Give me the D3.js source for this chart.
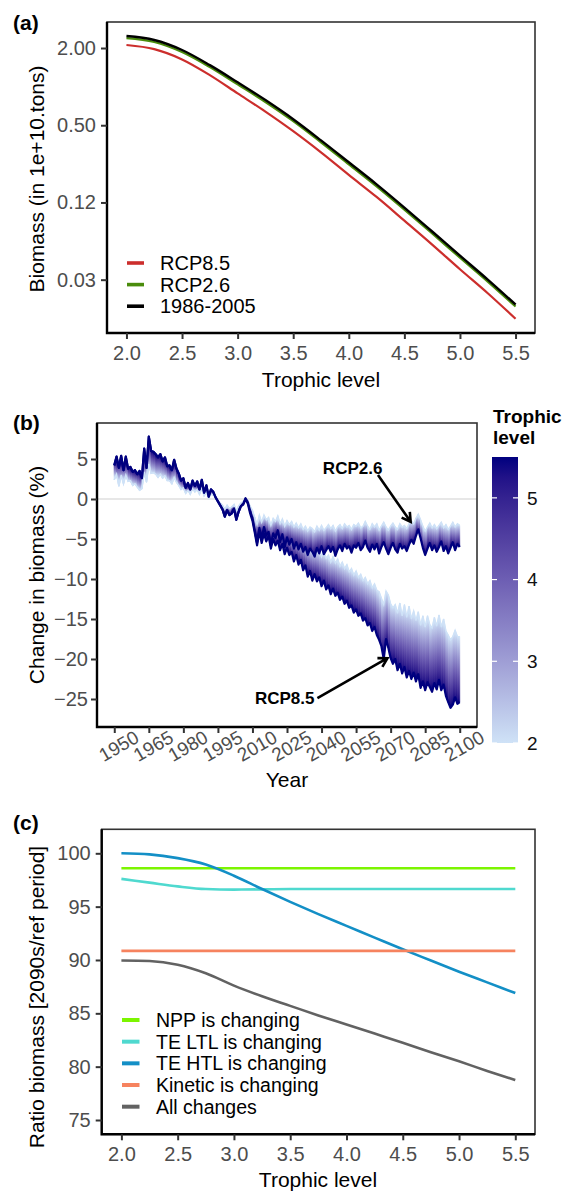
<!DOCTYPE html>
<html>
<head>
<meta charset="utf-8">
<script src="https://cdn.jsdelivr.net/npm/d3@7"></script>
<style>
  body { margin: 0; background: #fff; }
  svg { display: block; }
</style>
</head>
<body>
<svg id="fig" width="567" height="1193"></svg>
<script>
// ---------- Panel (a): biomass spectrum by trophic level ----------
const aTL = [2.0, 2.25, 2.5, 2.75, 3.0, 3.25, 3.5, 3.75, 4.0, 4.25, 4.5, 4.75, 5.0, 5.25, 5.5];
const aRef   = [2.48, 2.31, 1.93, 1.47, 1.08, 0.785, 0.557, 0.381, 0.257, 0.173, 0.114, 0.0742, 0.0481, 0.0313, 0.0200];
const aRcp26 = [2.39, 2.23, 1.86, 1.42, 1.04, 0.758, 0.538, 0.368, 0.248, 0.167, 0.110, 0.0716, 0.0464, 0.0302, 0.0193];
const aRcp85 = [2.11, 1.96, 1.63, 1.23, 0.886, 0.638, 0.449, 0.307, 0.205, 0.138, 0.0902, 0.0587, 0.0377, 0.0245, 0.0155];
const aXTicks = [2.0, 2.5, 3.0, 3.5, 4.0, 4.5, 5.0, 5.5];
const aYTicks = [0.03125, 0.125, 0.5, 2];
const aYTickLabels = ["0.03", "0.12", "0.50", "2.00"];
const aSeriesNames = ["RCP8.5", "RCP2.6", "1986-2005"];
const aSeriesColors = ["#cc2e2c", "#4a8c0c", "#000000"];

// ---------- Panel (b): yearly change in biomass, TL 2 (light) and TL 5.5 (dark) edges ----------
const bHistStart = 1950;
const bHistTL55 = [4.2, 5.3, 3.9, 5.4, 3.6, 5.3, 3.8, 4.0, 3.4, 3.6,
                   3.1, 3.5, 2.6, 6.3, 3.9, 7.8, 6.0, 5.9, 5.6, 5.2,
                   5.6, 4.7, 5.2, 4.1, 4.2, 3.6, 4.9, 3.8, 3.2, 2.3,
                   2.6, 1.4, 2.0, 1.2, 2.3, 1.6, 2.2, 1.2, 2.4, 0.8,
                   1.7, 0.3, 1.2, 0.9, 0.2, -0.3, -0.8, -1.3, -2.2, -1.4,
                   -2.0, -1.8, -1.2, -2.6, -1.6, -0.9];
const bHistTL2  = [2.4, 3.1, 1.6, 3.0, 1.9, 3.0, 2.2, 2.3, 1.7, 1.9,
                   1.5, 1.1, 1.3, 3.4, 2.1, 4.4, 3.2, 3.3, 3.1, 2.7,
                   3.1, 2.6, 2.9, 2.3, 2.3, 1.9, 2.7, 2.1, 1.7, 1.2,
                   1.4, 0.7, 1.1, 0.6, 1.3, 0.9, 1.2, 0.6, 1.3, 0.4,
                   0.9, 0.1, 0.6, 0.5, 0.1, -0.2, -0.5, -0.8, -1.3, -0.8,
                   -1.2, -1.0, -0.7, -1.5, -0.9, -0.5];
const bFutStart = 2006;
const bRcp26TL55 = [-0.6, 0.1, -0.4, -1.5, -2.4, -3.9, -5.5, -3.6, -5.0, -3.5,
                    -4.6, -4.1, -5.8, -4.3, -4.9, -3.9, -5.4, -4.4, -6.0, -4.8,
                    -5.7, -5.0, -6.2, -5.4, -6.3, -5.6, -6.6, -6.0, -7.0, -6.2,
                    -6.6, -7.2, -6.1, -6.8, -5.9, -6.9, -6.4, -5.9, -6.6, -6.0,
                    -7.1, -6.3, -5.8, -6.5, -5.6, -6.2, -5.9, -6.7, -5.8, -6.1,
                    -5.5, -6.4, -6.0, -5.2, -6.1, -6.6, -5.7, -6.3, -5.6, -6.8,
                    -6.0, -5.4, -6.2, -6.9, -6.1, -5.5, -6.3, -6.7, -5.6, -6.2,
                    -5.9, -6.5, -5.7, -5.1, -5.6, -4.6, -3.8, -4.9, -6.1, -7.0,
                    -6.2, -5.5, -6.4, -5.8, -6.6, -6.0, -5.3, -6.5, -5.9, -6.8,
                    -6.1, -5.4, -6.4, -5.6, -6.0];
const bRcp26TL2  = [-0.3, 0.1, -0.2, -0.9, -1.4, -2.3, -3.2, -2.0, -2.9, -2.0,
                    -2.6, -2.3, -3.3, -2.4, -2.8, -2.1, -3.1, -2.5, -3.4, -2.7,
                    -3.2, -2.8, -3.5, -3.0, -3.6, -3.1, -3.8, -3.4, -4.0, -3.5,
                    -3.7, -4.1, -3.4, -3.9, -3.3, -3.9, -3.6, -3.2, -3.7, -3.3,
                    -4.0, -3.5, -3.2, -3.7, -3.1, -3.5, -3.3, -3.8, -3.2, -3.4,
                    -3.0, -3.6, -3.4, -2.8, -3.4, -3.8, -3.1, -3.5, -3.1, -3.9,
                    -3.4, -2.9, -3.5, -3.9, -3.4, -3.0, -3.5, -3.8, -3.1, -3.5,
                    -3.3, -3.7, -3.1, -2.7, -3.1, -2.4, -1.9, -2.6, -3.4, -4.0,
                    -3.5, -3.0, -3.6, -3.2, -3.7, -3.3, -2.9, -3.6, -3.2, -3.8,
                    -3.4, -2.9, -3.5, -3.1, -3.3];
const bRcp85TL55 = [-0.7, 0.0, -0.6, -1.8, -2.7, -4.2, -5.8, -4.0, -5.5, -4.3,
                    -5.3, -4.6, -6.2, -5.0, -5.8, -5.2, -6.4, -5.6, -6.9, -6.1,
                    -7.0, -6.6, -7.8, -7.0, -8.2, -7.6, -8.9, -8.3, -9.7, -9.0,
                    -10.2, -9.4, -10.3, -9.8, -10.9, -10.2, -11.3, -10.8, -11.9, -11.2,
                    -12.1, -11.7, -12.6, -12.2, -13.1, -12.7, -13.6, -13.3, -14.2, -13.8,
                    -14.6, -14.3, -15.2, -14.9, -15.8, -15.5, -16.5, -16.0, -17.0, -17.6,
                    -18.4, -20.0, -17.5, -18.6, -19.9, -20.6, -20.0, -21.4, -20.6, -21.8,
                    -21.0, -22.3, -21.5, -22.5, -21.7, -22.8, -21.9, -23.6, -22.8, -23.9,
                    -22.9, -23.5, -24.1, -23.0, -23.8, -22.6, -23.9, -23.2, -24.6, -25.4,
                    -26.1, -25.7, -24.8, -25.6, -25.4];
const bRcp85TL2  = [-0.4, 0.0, -0.3, -1.1, -1.6, -2.5, -3.4, -2.4, -3.3, -2.6,
                    -3.2, -2.8, -3.8, -3.0, -3.5, -3.2, -3.9, -3.4, -4.3, -3.8,
                    -4.4, -4.1, -5.0, -4.4, -5.3, -4.9, -5.8, -5.3, -6.3, -5.8,
                    -6.7, -6.0, -6.8, -6.3, -7.2, -6.5, -7.4, -7.0, -7.9, -7.2,
                    -8.0, -7.5, -8.4, -7.9, -8.7, -8.2, -9.1, -8.7, -9.5, -9.0,
                    -9.8, -9.4, -10.2, -9.8, -10.6, -10.2, -11.1, -10.6, -11.4, -11.6,
                    -12.4, -13.2, -11.5, -12.0, -13.1, -13.6, -13.2, -14.3, -13.0, -14.6,
                    -13.2, -14.8, -13.4, -15.0, -14.0, -15.2, -14.1, -15.8, -14.6, -16.0,
                    -14.6, -15.7, -16.1, -14.8, -15.9, -14.5, -16.0, -15.0, -16.5, -17.0,
                    -17.6, -17.2, -16.4, -17.2, -17.2];
const bYearTicks = [1950, 1965, 1980, 1995, 2010, 2025, 2040, 2055, 2070, 2085, 2100];
const bYTicks = [-25, -20, -15, -10, -5, 0, 5];
const bColorTicks = [2, 3, 4, 5];
const bTLRange = [2, 5.5];
// scenario callouts: label position and arrow start/end, in (year, % change)
const bNotes = [
  { label: "RCP2.6", at: [2053.5, 3.9], from: [2064.5, 3.0], to: [2078.7, -2.85] },
  { label: "RCP8.5", at: [2024.0, -24.9], from: [2038.2, -24.9], to: [2068.6, -19.9] }
];

// ---------- Panel (c): 2090s / reference ratio by driver ----------
const cTL = [2.0, 2.25, 2.5, 2.75, 3.0, 3.25, 3.5, 3.75, 4.0, 4.25, 4.5, 4.75, 5.0, 5.25, 5.5];
const cNPP     = [98.6, 98.6, 98.6, 98.6, 98.6, 98.6, 98.6, 98.6, 98.6, 98.6, 98.6, 98.6, 98.6, 98.6, 98.6];
const cTELTL   = [97.6, 97.25, 96.9, 96.65, 96.6, 96.62, 96.65, 96.65, 96.65, 96.65, 96.65, 96.65, 96.65, 96.65, 96.65];
const cTEHTL   = [100.0, 99.9, 99.55, 98.95, 97.9, 96.65, 95.45, 94.3, 93.2, 92.1, 91.0, 89.95, 88.9, 87.9, 86.9];
const cKinetic = [90.85, 90.85, 90.85, 90.85, 90.85, 90.85, 90.85, 90.85, 90.85, 90.85, 90.85, 90.85, 90.85, 90.85, 90.85];
const cAll     = [89.95, 89.9, 89.55, 88.75, 87.6, 86.6, 85.7, 84.8, 83.95, 83.1, 82.25, 81.35, 80.5, 79.6, 78.75];
const cXTicks = [2.0, 2.5, 3.0, 3.5, 4.0, 4.5, 5.0, 5.5];
const cYTicks = [75, 80, 85, 90, 95, 100];
const cNames  = ["NPP is changing", "TE LTL is changing", "TE HTL is changing", "Kinetic is changing", "All changes"];
const cColors = ["#7cf500", "#4fd9cf", "#138fc6", "#f6835f", "#626262"];

// ---------------------------------------------------------------
const FONT = '"Liberation Sans", Arial, Helvetica, sans-serif';
const svg = d3.select("#fig").attr("font-family", FONT);
svg.append("rect").attr("width", 567).attr("height", 1193).attr("fill", "#fff");
const defs = svg.append("defs");

function styleAxis(g, size) {
  g.attr("font-family", FONT).attr("font-size", size);
  g.select(".domain").remove();
  g.selectAll(".tick line").attr("stroke", "#333").attr("stroke-width", 2);
  g.selectAll(".tick text").attr("fill", "#4d4d4d").attr("font-size", size);
}
function frame(x0, x1, y0, y1) {
  svg.append("rect").attr("x", x0).attr("y", y0).attr("width", x1 - x0).attr("height", y1 - y0)
    .attr("fill", "none").attr("stroke", "#333").attr("stroke-width", 1.6);
  svg.append("path").attr("d", `M${x0},${y0}V${y1}H${x1}`)
    .attr("fill", "none").attr("stroke", "#000").attr("stroke-width", 2.4);
}
function title(txt, x, y, size, opts = {}) {
  const t = svg.append("text").attr("x", x).attr("y", y).attr("font-size", size).text(txt)
    .attr("fill", opts.fill || "#000");
  if (opts.bold) t.attr("font-weight", "bold");
  if (opts.anchor) t.attr("text-anchor", opts.anchor);
  if (opts.rotate) t.attr("transform", `rotate(-90,${x},${y})`);
  return t;
}

// =================== Panel (a) ===================
const xA = d3.scaleLinear().domain([1.825, 5.675]).range([107, 535]);
const yA = d3.scaleLog().domain([0.0120, 3.19]).range([333, 22]);
const lineA = d3.line().x(d => xA(d[0])).y(d => yA(d[1])).curve(d3.curveMonotoneX);
[aRcp85, aRcp26, aRef].forEach((vals, i) => {
  svg.append("path").datum(aTL.map((t, k) => [t, vals[k]]))
    .attr("d", lineA).attr("fill", "none")
    .attr("stroke", aSeriesColors[i]).attr("stroke-width", i === 2 ? 2.4 : 2.2);
});
frame(107, 535, 22, 333);
styleAxis(svg.append("g").attr("transform", "translate(0,333)")
  .call(d3.axisBottom(xA).tickValues(aXTicks).tickFormat(d3.format(".1f")).tickSize(6).tickPadding(7)), 20);
styleAxis(svg.append("g").attr("transform", "translate(107,0)")
  .call(d3.axisLeft(yA).tickValues(aYTicks).tickFormat((d, i) => aYTickLabels[i]).tickSize(6).tickPadding(5)), 20);
title("Trophic level", 321, 387, 21, { anchor: "middle" });
title("Biomass (in 1e+10.tons)", 44, 179, 21, { anchor: "middle", rotate: true });
title("(a)", 13, 30, 21, { bold: true });
aSeriesNames.forEach((nm, i) => {
  const cy = 263 + i * 21.6;
  svg.append("line").attr("x1", 127).attr("x2", 144).attr("y1", cy).attr("y2", cy)
    .attr("stroke", aSeriesColors[i]).attr("stroke-width", 3.6);
  title(nm, 160, cy + 7, 20);
});

// =================== Panel (b) ===================
const xB = d3.scaleLinear().domain([1942.5, 2107.5]).range([97, 477]);
const yB = d3.scaleLinear().domain([-28.5, 9.5]).range([727, 423]);
const colTL = d3.scaleLinear().domain(bTLRange).range(["#cfe2f7", "#00007f"]).interpolate(d3.interpolateLab);
const tlStops = d3.range(bTLRange[0], bTLRange[1] + 0.001, 0.25);

// full series per scenario: shared historical years + scenario years
function scenario(fut55, fut2) {
  const rows = [];
  bHistTL55.forEach((v, i) => rows.push({ year: bHistStart + i, hi: v, lo: bHistTL2[i] }));
  fut55.forEach((v, i) => rows.push({ year: bFutStart + i, hi: v, lo: fut2[i] }));
  return rows;
}
const scen85 = scenario(bRcp85TL55, bRcp85TL2);
const scen26 = scenario(bRcp26TL55, bRcp26TL2);

const plotB = svg.append("g");
plotB.append("line").attr("x1", 97).attr("x2", 477).attr("y1", yB(0)).attr("y2", yB(0))
  .attr("stroke", "#cfcfcf").attr("stroke-width", 1.1);

// colour band spanning trophic levels 2 -> 5.5 for each year step
function band(rows, key) {
  const g = plotB.append("g");
  for (let i = 0; i < rows.length - 1; i++) {
    const a = rows[i], b = rows[i + 1];
    const x0 = xB(a.year), x1 = xB(b.year);
    const l0 = yB(a.lo), l1 = yB(b.lo), d0 = yB(a.hi), d1 = yB(b.hi);
    const id = `g${key}${i}`;
    const gr = defs.append("linearGradient").attr("id", id).attr("gradientUnits", "userSpaceOnUse")
      .attr("x1", (x0 + x1) / 2).attr("x2", (x0 + x1) / 2)
      .attr("y1", (l0 + l1) / 2).attr("y2", (d0 + d1) / 2);
    tlStops.forEach(t => gr.append("stop")
      .attr("offset", (t - bTLRange[0]) / (bTLRange[1] - bTLRange[0]))
      .attr("stop-color", colTL(t)));
    g.append("path").attr("d", `M${x0},${l0}L${x1},${l1}L${x1},${d1}L${x0},${d0}Z`)
      .attr("fill", `url(#${id})`).attr("stroke", `url(#${id})`).attr("stroke-width", 0.7);
  }
  g.append("path").datum(rows)
    .attr("d", d3.line().x(d => xB(d.year)).y(d => yB(d.lo)))
    .attr("fill", "none").attr("stroke", colTL(bTLRange[0])).attr("stroke-width", 1.4);
}
band(scen85, "a");
band(scen26, "b");
const topLine = d3.line().x(d => xB(d.year)).y(d => yB(d.hi)).curve(d3.curveLinear);
[scen85, scen26].forEach(rows => {
  plotB.append("path").datum(rows).attr("d", topLine).attr("fill", "none")
    .attr("stroke", colTL(bTLRange[1])).attr("stroke-width", 2.2).attr("stroke-linejoin", "round");
});

// callouts
bNotes.forEach(n => {
  svg.append("text").attr("x", xB(n.at[0])).attr("y", yB(n.at[1])).attr("dy", "0.36em")
    .attr("text-anchor", "middle").attr("font-weight", "bold").attr("font-size", 17).text(n.label);
  const sx = xB(n.from[0]), sy = yB(n.from[1]), tx = xB(n.to[0]), ty = yB(n.to[1]);
  const ang = Math.atan2(ty - sy, tx - sx), len = 10, spread = Math.PI / 6;
  const h1 = [tx - len * Math.cos(ang - spread), ty - len * Math.sin(ang - spread)];
  const h2 = [tx - len * Math.cos(ang + spread), ty - len * Math.sin(ang + spread)];
  svg.append("path").attr("d", `M${sx},${sy}L${tx},${ty}M${h1[0]},${h1[1]}L${tx},${ty}L${h2[0]},${h2[1]}`)
    .attr("fill", "none").attr("stroke", "#000").attr("stroke-width", 2.6)
    .attr("stroke-linejoin", "miter").attr("stroke-linecap", "butt");
});

frame(97, 477, 423, 727);
const axBX = svg.append("g").attr("transform", "translate(0,727)")
  .call(d3.axisBottom(xB).tickValues(bYearTicks).tickFormat(d3.format("d")).tickSize(6));
styleAxis(axBX, 19);
axBX.selectAll(".tick text").attr("y", 0).attr("dy", "0.35em").attr("text-anchor", "middle")
  .attr("transform", "translate(4,19) rotate(-30)");
styleAxis(svg.append("g").attr("transform", "translate(97,0)")
  .call(d3.axisLeft(yB).tickValues(bYTicks).tickFormat(d3.format("d")).tickSize(6).tickPadding(3)), 20);
title("Year", 287, 787, 21, { anchor: "middle" });
title("Change in biomass (%)", 44, 575, 21, { anchor: "middle", rotate: true });
title("(b)", 13, 430, 21, { bold: true });

// colour bar
const cbY = d3.scaleLinear().domain(bTLRange).range([743, 457]);
const cbGrad = defs.append("linearGradient").attr("id", "cbar")
  .attr("x1", 0).attr("y1", 1).attr("x2", 0).attr("y2", 0);
tlStops.forEach(t => cbGrad.append("stop")
  .attr("offset", (t - bTLRange[0]) / (bTLRange[1] - bTLRange[0])).attr("stop-color", colTL(t)));
svg.append("rect").attr("x", 492).attr("y", cbY(bTLRange[1])).attr("width", 26)
  .attr("height", cbY(bTLRange[0]) - cbY(bTLRange[1])).attr("fill", "url(#cbar)");
bColorTicks.forEach(t => {
  svg.append("line").attr("x1", 492).attr("x2", 497).attr("y1", cbY(t)).attr("y2", cbY(t))
    .attr("stroke", "#fff").attr("stroke-width", 1.2);
  svg.append("line").attr("x1", 513).attr("x2", 518).attr("y1", cbY(t)).attr("y2", cbY(t))
    .attr("stroke", "#fff").attr("stroke-width", 1.2);
  svg.append("text").attr("x", 527).attr("y", cbY(t)).attr("dy", "0.36em")
    .attr("font-size", 19).attr("fill", "#111").text(t);
});
title("Trophic", 493, 423, 19, { bold: true });
title("level", 493, 444, 19, { bold: true });

// =================== Panel (c) ===================
const xC = d3.scaleLinear().domain([1.825, 5.675]).range([101.7, 535]);
const yC = d3.scaleLinear().domain([73.66, 102.25]).range([1134.3, 829.3]);
const lineC = d3.line().x(d => xC(d[0])).y(d => yC(d[1])).curve(d3.curveMonotoneX);
[cNPP, cTELTL, cTEHTL, cKinetic, cAll].forEach((vals, i) => {
  svg.append("path").datum(cTL.map((t, k) => [t, vals[k]]))
    .attr("d", lineC).attr("fill", "none").attr("stroke", cColors[i]).attr("stroke-width", 2.6);
});
frame(101.7, 535, 829.3, 1134.3);
styleAxis(svg.append("g").attr("transform", "translate(0,1134.3)")
  .call(d3.axisBottom(xC).tickValues(cXTicks).tickFormat(d3.format(".1f")).tickSize(6).tickPadding(6.5)), 20);
styleAxis(svg.append("g").attr("transform", "translate(101.7,0)")
  .call(d3.axisLeft(yC).tickValues(cYTicks).tickFormat(d3.format("d")).tickSize(6).tickPadding(5)), 20);
title("Trophic level", 318, 1187, 21, { anchor: "middle" });
title("Ratio biomass [2090s/ref period]", 44, 997, 21, { anchor: "middle", rotate: true });
title("(c)", 13, 830, 21, { bold: true });
cNames.forEach((nm, i) => {
  const cy = 1020 + i * 21.67;
  svg.append("line").attr("x1", 122).attr("x2", 139.5).attr("y1", cy).attr("y2", cy)
    .attr("stroke", cColors[i]).attr("stroke-width", 4);
  title(nm, 156, cy + 7, 19.5);
});
</script>
</body>
</html>
